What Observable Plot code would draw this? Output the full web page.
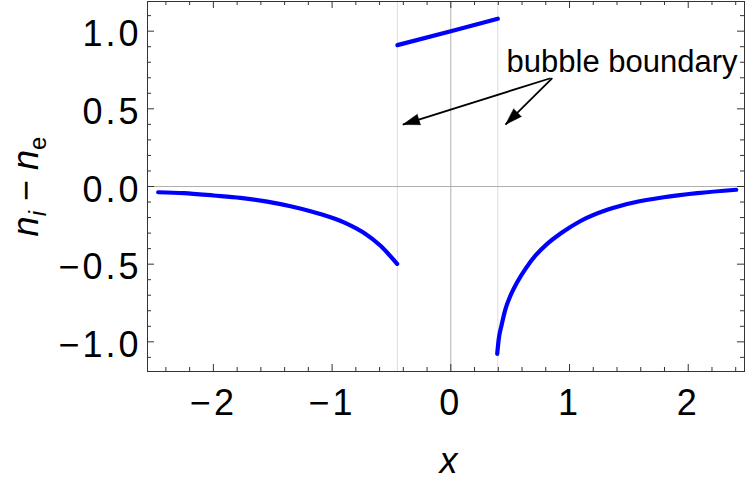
<!DOCTYPE html>
<html><head><meta charset="utf-8">
<script src="https://cdn.jsdelivr.net/npm/d3@7"></script>
<script src="https://cdn.jsdelivr.net/npm/@observablehq/plot@0.6"></script>
<style>body{margin:0;background:#fff} svg{display:block}</style>
</head><body><div id="chart"></div>
<script>
// outer branch left of the bubble
const leftX = [-2.465, -2.249, -1.997, -1.772, -1.547, -1.350, -1.182, -1.013, -0.873, -0.733, -0.592, -0.452];
const leftY = [-0.037, -0.043, -0.058, -0.073, -0.097, -0.127, -0.159, -0.198, -0.240, -0.298, -0.382, -0.498];
// outer branch right of the bubble
const rightX = [0.391, 0.404, 0.427, 0.461, 0.503, 0.559, 0.629, 0.714, 0.812, 0.924, 1.093, 1.318, 1.542, 1.794, 2.076, 2.404];
const rightY = [-1.077, -0.981, -0.895, -0.788, -0.702, -0.616, -0.530, -0.444, -0.369, -0.303, -0.222, -0.150, -0.103, -0.069, -0.043, -0.021];
// inside the bubble
const insideX = [-0.45, 0.0, 0.396];
const insideY = [0.91, 1.0, 1.08];
// bubble boundaries
const boundaries = [-0.45, 0.396];
// annotation
const annText = "bubble boundary";
const annX = 0.47, annY = 0.734;
const arrowX1 = [0.84, 0.855], arrowY1 = [0.697, 0.697];
const arrowX2 = [-0.404, 0.461], arrowY2 = [0.399, 0.399];
// axes
const xDomain = [-2.555, 2.474];
const yDomain = [-1.191, 1.191];
const xMajor = [-2, -1, 0, 1, 2];
const xTickLabels = ["−2", "−1", "0", "1", "2"];
const yMajor = [-1, -0.5, 0, 0.5, 1];
const yTickLabels = ["−1.0", "−0.5", "0.0", "0.5", "1.0"];
const xMinor = d3.range(-24, 25, 2).map(d => d / 10).filter(d => !xMajor.some(m => Math.abs(m - d) < 1e-9));
const yMinor = d3.range(-11, 12).map(d => d / 10).filter(d => !yMajor.some(m => Math.abs(m - d) < 1e-9));
const xTitle = "x";

const W = 747, H = 484, mL = 147, mR = 3, mT = 1, mB = 113;
const innerW = W - mL - mR, innerH = H - mT - mB;
const kx = innerW / (xDomain[1] - xDomain[0]), ky = innerH / (yDomain[1] - yDomain[0]);

const toPts = (X, Y) => X.map((x, i) => ({x, y: Y[i]}));
const leftPts = toPts(leftX, leftY), rightPts = toPts(rightX, rightY), insidePts = toPts(insideX, insideY);
const arrows = arrowX1.map((x, i) => {
  const dx = (arrowX2[i] - x) * kx, dy = -(arrowY2[i] - arrowY1[i]) * ky;
  return {x1: x, y1: arrowY1[i], x2: arrowX2[i], y2: arrowY2[i], angle: Math.atan2(dx, -dy) * 180 / Math.PI};
});

const frameC = "#333";
const ticksX = (vals, len) => [
  Plot.tickX(vals, {x: d => d, insetTop: innerH - len, stroke: frameC}),
  Plot.tickX(vals, {x: d => d, insetBottom: innerH - len, stroke: frameC})
];
const ticksY = (vals, len) => [
  Plot.tickY(vals, {y: d => d, insetRight: innerW - len, stroke: frameC}),
  Plot.tickY(vals, {y: d => d, insetLeft: innerW - len, stroke: frameC})
];

const chart = Plot.plot({
  width: W, height: H,
  marginLeft: mL, marginRight: mR, marginTop: mT, marginBottom: mB,
  style: {fontFamily: "'Liberation Sans', Arial, sans-serif", background: "#fff", color: "#000"},
  x: {domain: xDomain},
  y: {domain: yDomain},
  marks: [
    Plot.ruleX(boundaries, {x: d => d, stroke: "#dcdcdc", strokeWidth: 1}),
    Plot.ruleX([0], {x: d => d, stroke: "#b0b0b0", strokeWidth: 1}),
    Plot.ruleY([0], {y: d => d, stroke: "#b0b0b0", strokeWidth: 1}),
    ...ticksX(xMajor, 7), ...ticksX(xMinor, 4),
    ...ticksY(yMajor, 7), ...ticksY(yMinor, 4),
    Plot.frame({stroke: frameC, strokeWidth: 1}),
    Plot.line(leftPts, {x: "x", y: "y", stroke: "#0000ff", strokeWidth: 4.2, curve: "monotone-x"}),
    Plot.line(rightPts, {x: "x", y: "y", stroke: "#0000ff", strokeWidth: 4.2, curve: "monotone-x"}),
    Plot.line(insidePts, {x: "x", y: "y", stroke: "#0000ff", strokeWidth: 4.2}),
    Plot.link(arrows, {x1: "x1", y1: "y1", x2: "x2", y2: "y2", stroke: "#000", strokeWidth: 1.8}),
    Plot.vector(arrows, {x: "x2", y: "y2", rotate: "angle", length: 17, r: 5.5, anchor: "end", shape: "spike",
      fill: "#000", fillOpacity: 1, stroke: "#000", strokeWidth: 0.5}),
    Plot.text([annText], {x: () => annX, y: () => annY, text: d => d, textAnchor: "start", lineAnchor: "bottom", fontSize: 31, fill: "#000"}),
    Plot.axisX(xMajor, {tickSize: 0, tickPadding: 18.4, fontSize: 36, label: null,
      tickFormat: d => xTickLabels[xMajor.indexOf(d)]}),
    Plot.axisY(yMajor, {tickSize: 0, tickPadding: 6, fontSize: 36, label: null, dy: 3.5,
      tickFormat: d => yTickLabels[yMajor.indexOf(d)]}),
    Plot.text([xTitle], {frameAnchor: "bottom", dx: 2.5, dy: 101, lineAnchor: "bottom", text: d => d, fontSize: 36, fontStyle: "italic", fill: "#000"})
  ]
});

const svg = d3.select(chart);
svg.selectAll('g[aria-label="x-axis tick label"] text, g[aria-label="y-axis tick label"] text').attr("letter-spacing", 3);

const yl = svg.append("text").attr("transform", "translate(37.5,186.5) rotate(-90)")
  .attr("text-anchor", "middle").attr("font-size", 36).attr("fill", "#000");
yl.append("tspan").attr("font-style", "italic").text("n");
yl.append("tspan").attr("font-style", "italic").attr("font-size", 24).attr("dy", 8).text("i");
yl.append("tspan").attr("dy", -8).text(" − ");
yl.append("tspan").attr("font-style", "italic").text("n");
yl.append("tspan").attr("font-size", 24).attr("dy", 8).text("e");

document.getElementById("chart").appendChild(chart);
</script>
</body></html>
